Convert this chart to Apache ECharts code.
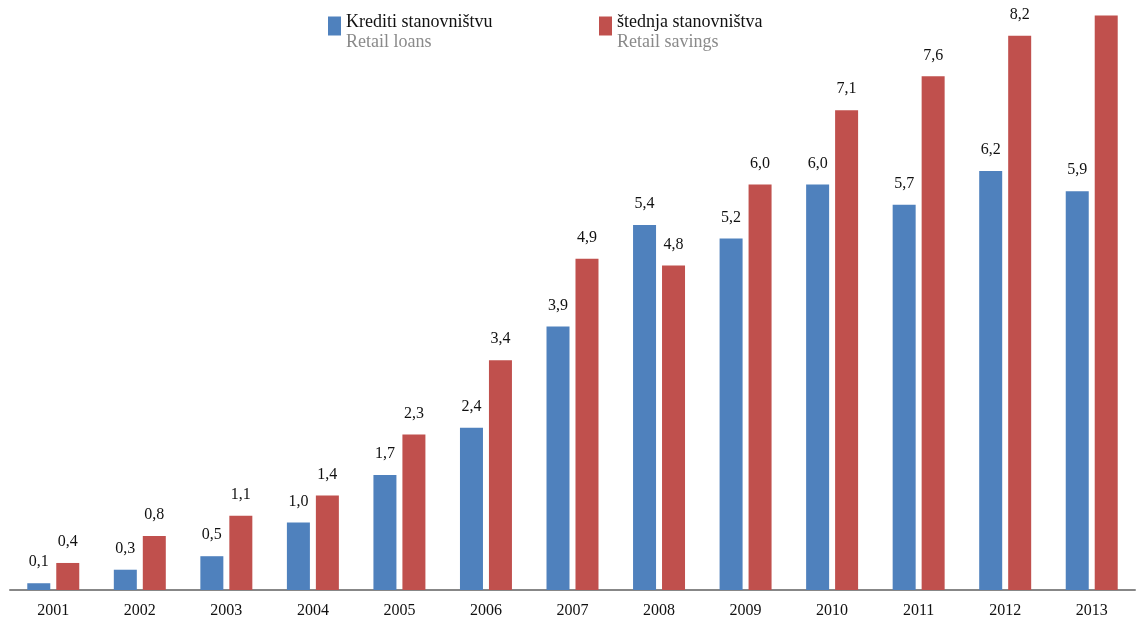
<!DOCTYPE html>
<html>
<head>
<meta charset="utf-8">
<script src="https://cdn.jsdelivr.net/npm/echarts@6/dist/echarts.min.js"></script>
<style>
  html, body { margin: 0; padding: 0; background: #fff; }
  #chart { width: 1140px; height: 622px; }
</style>
</head>
<body>
<div id="chart"></div>
<script>
// years on the x axis
const years = ['2001', '2002', '2003', '2004', '2005', '2006', '2007',
               '2008', '2009', '2010', '2011', '2012', '2013'];
// retail loans
const loans = [0.1, 0.3, 0.5, 1.0, 1.7, 2.4, 3.9, 5.4, 5.2, 6.0, 5.7, 6.2, 5.9];
// retail savings (last one runs off the top, its label is not shown)
const savings = [0.4, 0.8, 1.1, 1.4, 2.3, 3.4, 4.9, 4.8, 6.0, 7.1, 7.6, 8.2, 8.5];

const subtitles = {
    'Krediti stanovništvu': 'Retail loans',
    'štednja stanovništva': 'Retail savings'
};

const serif = '"Liberation Serif", "DejaVu Serif", serif';
const fmt = p => p.value.toFixed(1).replace('.', ',');

const chart = echarts.init(document.getElementById('chart'));

const labelStyle = {
    show: true,
    position: 'top',
    distance: 13,
    fontFamily: serif,
    fontSize: 16,
    color: '#111',
    formatter: fmt
};

chart.setOption({
    animation: false,
    grid: { left: 10, right: 5, top: 0, bottom: 32 },
    legend: {
        left: 328,
        top: 4,
        padding: 0,
        itemWidth: 13,
        itemHeight: 19,
        itemGap: 10,
        icon: 'rect',
        // empty first line lifts the square a bit, like in the original
        formatter: name => `{c| }\n{a|${name}}\n{b|${subtitles[name]}}`,
        textStyle: {
            rich: {
                c: { fontSize: 4, lineHeight: 12, width: 243 },
                a: { fontFamily: serif, fontSize: 18, color: '#111', lineHeight: 20, width: 243 },
                b: { fontFamily: serif, fontSize: 18, color: '#8a8a8a', lineHeight: 20, width: 243 }
            }
        }
    },
    xAxis: {
        type: 'category',
        data: years,
        axisTick: { show: false },
        axisLine: { lineStyle: { color: '#878787', width: 2 } },
        axisLabel: { fontFamily: serif, fontSize: 16, color: '#111', margin: 13 }
    },
    yAxis: {
        type: 'value',
        show: false,
        min: 0,
        max: 8.73
    },
    series: [
        {
            name: 'Krediti stanovništvu',
            type: 'bar',
            barWidth: 23,
            barGap: '26%',
            itemStyle: { color: '#4F81BD' },
            label: labelStyle,
            data: loans
        },
        {
            name: 'štednja stanovništva',
            type: 'bar',
            barWidth: 23,
            barGap: '26%',
            itemStyle: { color: '#C0504D' },
            label: labelStyle,
            data: savings.map((v, i) => i === savings.length - 1
                ? { value: v, label: { show: false } }
                : v)
        }
    ]
});
</script>
</body>
</html>
